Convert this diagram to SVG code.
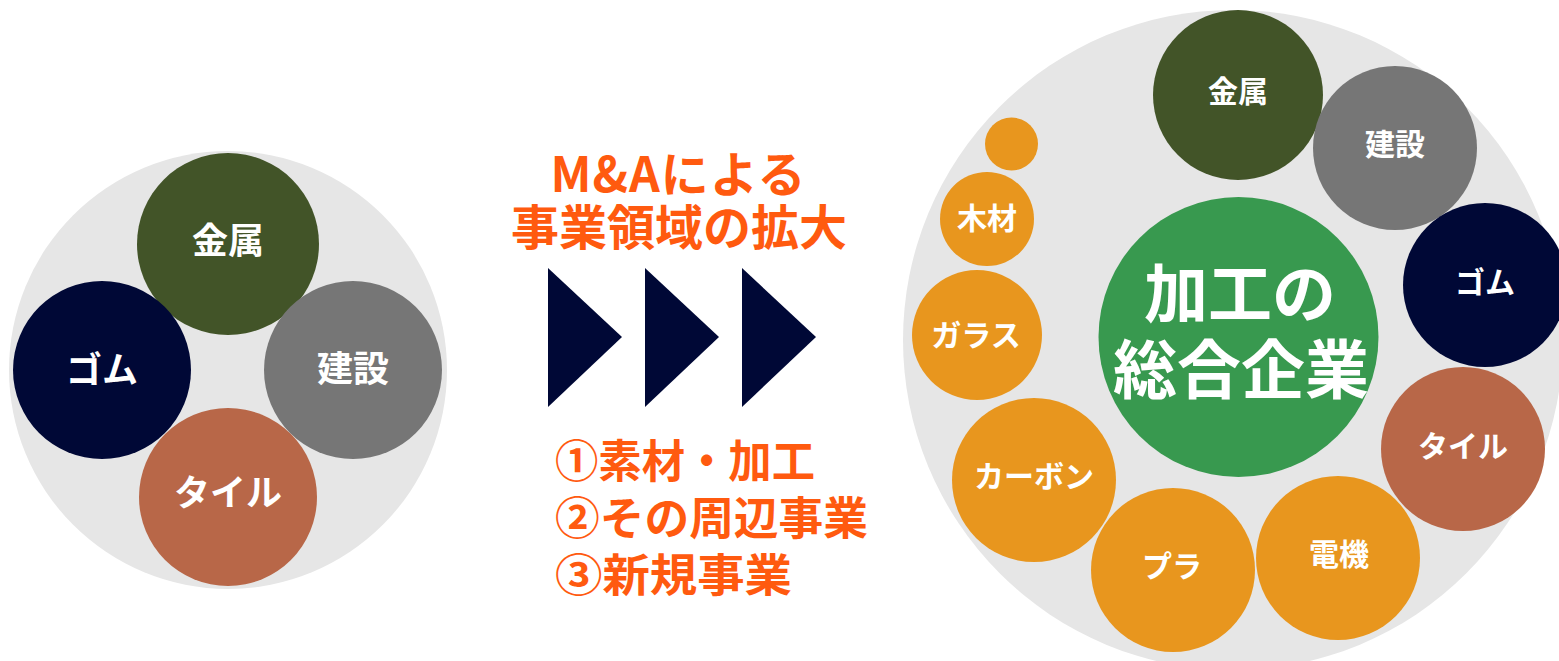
<svg xmlns="http://www.w3.org/2000/svg" width="1559" height="661" viewBox="0 0 1559 661">
<style>
.bg{fill:#E6E6E6}
.metal{fill:#425428}
.rubber{fill:#000836}
.build{fill:#767676}
.tile{fill:#B86748}
.orange{fill:#E8961E}
.core{fill:#38994F}
.arrow{fill:#000836}
text{font-family:"Noto Sans CJK JP","Noto Sans",sans-serif;font-weight:700}
.lbl{fill:#FFFFFF;text-anchor:middle}
.l36{font-size:36px}
.l30{font-size:30px}
.big{font-size:64px}
.head{fill:#FF5A0F;font-size:48px;text-anchor:middle}
.list{fill:#FF5A0F;font-size:45px}
</style>
<rect width="1559" height="661" fill="#FFFFFF"/>
<g id="left-cluster">
<circle class="bg" cx="228" cy="370" r="219"/>
<g id="l-metal"><circle class="metal" cx="228" cy="244" r="91"/><text class="lbl l36" x="228" y="254">金属</text></g>
<g id="l-rubber"><circle class="rubber" cx="102" cy="370" r="89"/><text class="lbl l36" x="102" y="383">ゴム</text></g>
<g id="l-build"><circle class="build" cx="353" cy="370" r="89"/><text class="lbl l36" x="353" y="382">建設</text></g>
<g id="l-tile"><circle class="tile" cx="228" cy="497" r="89"/><text class="lbl l36" x="228" y="506">タイル</text></g>
</g>
<g id="middle">
<text class="head" x="678" y="192" textLength="255" lengthAdjust="spacing">M&amp;Aによる</text>
<text class="head" x="679" y="245">事業領域の拡大</text>
<g id="arrows">
<polygon class="arrow" points="548,268 622,337 548,407"/>
<polygon class="arrow" points="645,268 719,337 645,407"/>
<polygon class="arrow" points="742,268 816,337 742,407"/>
</g>
<text class="list" x="555" y="478" textLength="260" lengthAdjust="spacingAndGlyphs">①素材・加工</text>
<text class="list" x="555" y="535" textLength="313" lengthAdjust="spacingAndGlyphs">②その周辺事業</text>
<text class="list" x="555" y="592" textLength="237" lengthAdjust="spacingAndGlyphs">③新規事業</text>
</g>
<g id="right-cluster">
<circle class="bg" cx="1233" cy="340" r="330"/>
<g id="r-core"><circle class="core" cx="1238.5" cy="337" r="140"/><text class="lbl big" x="1240" y="317">加工の</text><text class="lbl big" x="1241" y="393">総合企業</text></g>
<g id="r-metal"><circle class="metal" cx="1238" cy="95" r="85"/><text class="lbl l30" x="1238" y="102">金属</text></g>
<g id="r-build"><circle class="build" cx="1395" cy="148" r="82"/><text class="lbl l30" x="1395" y="155">建設</text></g>
<g id="r-rubber"><circle class="rubber" cx="1485" cy="285" r="82"/><text class="lbl l30" x="1485" y="293">ゴム</text></g>
<g id="r-tile"><circle class="tile" cx="1463" cy="449" r="82"/><text class="lbl l30" x="1463" y="457">タイル</text></g>
<g id="r-elec"><circle class="orange" cx="1338" cy="558" r="82"/><text class="lbl l30" x="1339" y="565">電機</text></g>
<g id="r-plastic"><circle class="orange" cx="1173" cy="570" r="82"/><text class="lbl l30" x="1172" y="577">プラ</text></g>
<g id="r-carbon"><circle class="orange" cx="1034" cy="480" r="82"/><text class="lbl l30" x="1034" y="487">カーボン</text></g>
<g id="r-glass"><circle class="orange" cx="977" cy="335" r="65"/><text class="lbl l30" x="976" y="346">ガラス</text></g>
<g id="r-wood"><circle class="orange" cx="987" cy="219" r="47"/><text class="lbl l30" x="987" y="229">木材</text></g>
<g id="r-small"><circle class="orange" cx="1011.5" cy="144" r="26.5"/></g>
</g>
</svg>
